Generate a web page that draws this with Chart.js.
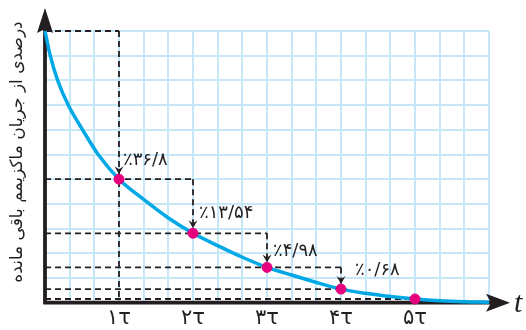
<!DOCTYPE html>
<html>
<head>
<meta charset="utf-8">
<script src="https://cdn.jsdelivr.net/npm/chart.js@4"></script>
<style>
  html, body { margin: 0; padding: 0; background: #fff; }
  #wrap { width: 526px; height: 330px; }
</style>
</head>
<body>
<div id="wrap"><canvas id="chart" width="526" height="330"></canvas></div>
<script>
// x in units of tau, y in grid cells (0 at the t axis, 11 at the top line)
const tauTicks = ['۱τ', '۲τ', '۳τ', '۴τ', '۵τ'];
const curveX = [0, 0.071, 0.171, 0.314, 0.508, 0.719, 1, 1.333, 1.667, 2, 2.333, 2.667, 3, 3.333, 3.667, 4, 4.333, 4.667, 5, 5.333, 5.667, 6];
const curveY = [11, 10, 9, 8, 7, 6, 5.0, 4.18, 3.43, 2.81, 2.31, 1.84, 1.43, 1.12, 0.82, 0.55, 0.38, 0.25, 0.15, 0.08, 0.04, 0.02];
const markX = [1, 2, 3, 4, 5];
const markY = [5.0, 2.81, 1.43, 0.55, 0.15];
const markLabels = ['٪۳۶/۸', '٪۱۳/۵۴', '٪۴/۹۸', '٪۰/۶۸'];
const yTitle = 'درصدی از جریان ماکزیمم باقی مانده';
const tLabel = 't';

const INK = '#231f20';
const CURVE = '#00a8e6';
const DOT = '#e6007e';
const GRID = '#c6e7f8';

const curveData = curveX.map((x, i) => ({ x: x, y: curveY[i] }));
const markData = markX.map((x, i) => ({ x: x, y: markY[i] }));

function dashed(ctx, x1, y1, x2, y2) {
    ctx.beginPath();
    ctx.moveTo(x1, y1);
    ctx.lineTo(x2, y2);
    ctx.stroke();
}

const guidePlugin = {
    id: 'guides',
    beforeDatasetsDraw(chart) {
        const ctx = chart.ctx;
        const xs = chart.scales.x, ys = chart.scales.y;
        const px = v => xs.getPixelForValue(v);
        const py = v => ys.getPixelForValue(v);
        ctx.save();
        ctx.strokeStyle = INK;
        ctx.lineWidth = 1.8;
        ctx.setLineDash([6, 4]);
        // top level and the 1 tau drop line
        dashed(ctx, px(0), py(11), px(markX[0]), py(11));
        dashed(ctx, px(markX[0]), py(11), px(markX[0]), py(0));
        markY.forEach((y, i) => {
            const end = i < 3 ? markX[i + 1] : markX[i];
            dashed(ctx, px(0), py(y), px(end), py(y));
            if (i < 3) dashed(ctx, px(markX[i + 1]), py(y), px(markX[i + 1]), py(markY[i + 1]));
        });
        ctx.setLineDash([]);

        // axes
        ctx.lineWidth = 3.8;
        ctx.beginPath();
        ctx.moveTo(px(0), py(0) + 1.5);
        ctx.lineTo(px(0), 20);
        ctx.moveTo(px(0) - 1.5, py(0));
        ctx.lineTo(498, py(0));
        ctx.stroke();
        ctx.restore();
    },
    afterDatasetsDraw(chart) {
        const ctx = chart.ctx;
        const xs = chart.scales.x, ys = chart.scales.y;
        const px = v => xs.getPixelForValue(v);
        const py = v => ys.getPixelForValue(v);
        const ox = px(0), oy = py(0);
        ctx.save();
        ctx.fillStyle = INK;
        // y arrow head
        ctx.beginPath();
        ctx.moveTo(ox, 8);
        ctx.lineTo(ox + 8, 33);
        ctx.lineTo(ox, 29);
        ctx.lineTo(ox - 8, 33);
        ctx.closePath();
        ctx.fill();
        // x arrow head
        ctx.beginPath();
        ctx.moveTo(510, oy);
        ctx.lineTo(486, oy - 9);
        ctx.lineTo(491, oy);
        ctx.lineTo(486, oy + 9);
        ctx.closePath();
        ctx.fill();

        // small arrows onto the marks
        for (let i = 0; i < 4; i++) {
            const x = px(markX[i]), y = py(markY[i]) - 5;
            ctx.beginPath();
            ctx.moveTo(x, y);
            ctx.lineTo(x - 4.5, y - 8);
            ctx.lineTo(x, y - 5);
            ctx.lineTo(x + 4.5, y - 8);
            ctx.closePath();
            ctx.fill();
        }

        // percentage labels
        const dx = [4, 6, 6, 14];
        const dy = [-19, -20, -16, -19];
        ctx.font = '18px "DejaVu Sans"';
        ctx.direction = 'ltr';
        ctx.textAlign = 'left';
        ctx.textBaseline = 'middle';
        markLabels.forEach((s, i) => {
            ctx.fillText(s, px(markX[i]) + dx[i], py(markY[i]) + dy[i]);
        });

        // t label
        ctx.font = 'italic 30px "Liberation Serif"';
        ctx.textBaseline = 'alphabetic';
        ctx.fillText(tLabel, 514, 312);

        // vertical title
        ctx.translate(18, 152);
        ctx.rotate(-Math.PI / 2);
        ctx.direction = 'rtl';
        ctx.textAlign = 'center';
        ctx.textBaseline = 'middle';
        ctx.font = '17px "DejaVu Sans"';
        ctx.fillText(yTitle, 0, 0);
        ctx.restore();
    }
};

new Chart(document.getElementById('chart'), {
    type: 'line',
    data: {
        datasets: [
            {
                type: 'scatter',
                data: markData,
                backgroundColor: DOT,
                borderColor: DOT,
                pointRadius: 5,
                order: 0,
                clip: false
            },
            {
                data: curveData,
                borderColor: CURVE,
                borderWidth: 3.5,
                pointRadius: 0,
                cubicInterpolationMode: 'monotone',
                order: 1,
                clip: false
            }
        ]
    },
    options: {
        responsive: false,
        animation: false,
        layout: { padding: { left: 45, right: 37, top: 31, bottom: 0 } },
        plugins: { legend: { display: false }, tooltip: { enabled: false } },
        scales: {
            x: {
                type: 'linear',
                min: 0,
                max: 6,
                afterBuildTicks(scale) {
                    const t = [];
                    for (let i = 0; i <= 18; i++) t.push({ value: i / 3 });
                    scale.ticks = t;
                },
                afterFit(scale) { scale.height = 27.3; },
                grid: { color: GRID, lineWidth: 2, drawTicks: false },
                border: { display: false },
                ticks: {
                    autoSkip: false,
                    maxRotation: 0,
                    padding: 3,
                    color: INK,
                    font: { family: 'DejaVu Sans', size: 21 },
                    callback(v) {
                        const r = Math.round(v);
                        if (Math.abs(v - r) < 1e-6 && r >= 1 && r <= 5) return tauTicks[r - 1];
                        return '';
                    }
                }
            },
            y: {
                min: 0,
                max: 11,
                afterFit(scale) { scale.width = 0; },
                grid: { color: GRID, lineWidth: 2, drawTicks: false },
                border: { display: false },
                ticks: { display: false, stepSize: 1 }
            }
        }
    },
    plugins: [guidePlugin]
});
</script>
</body>
</html>
